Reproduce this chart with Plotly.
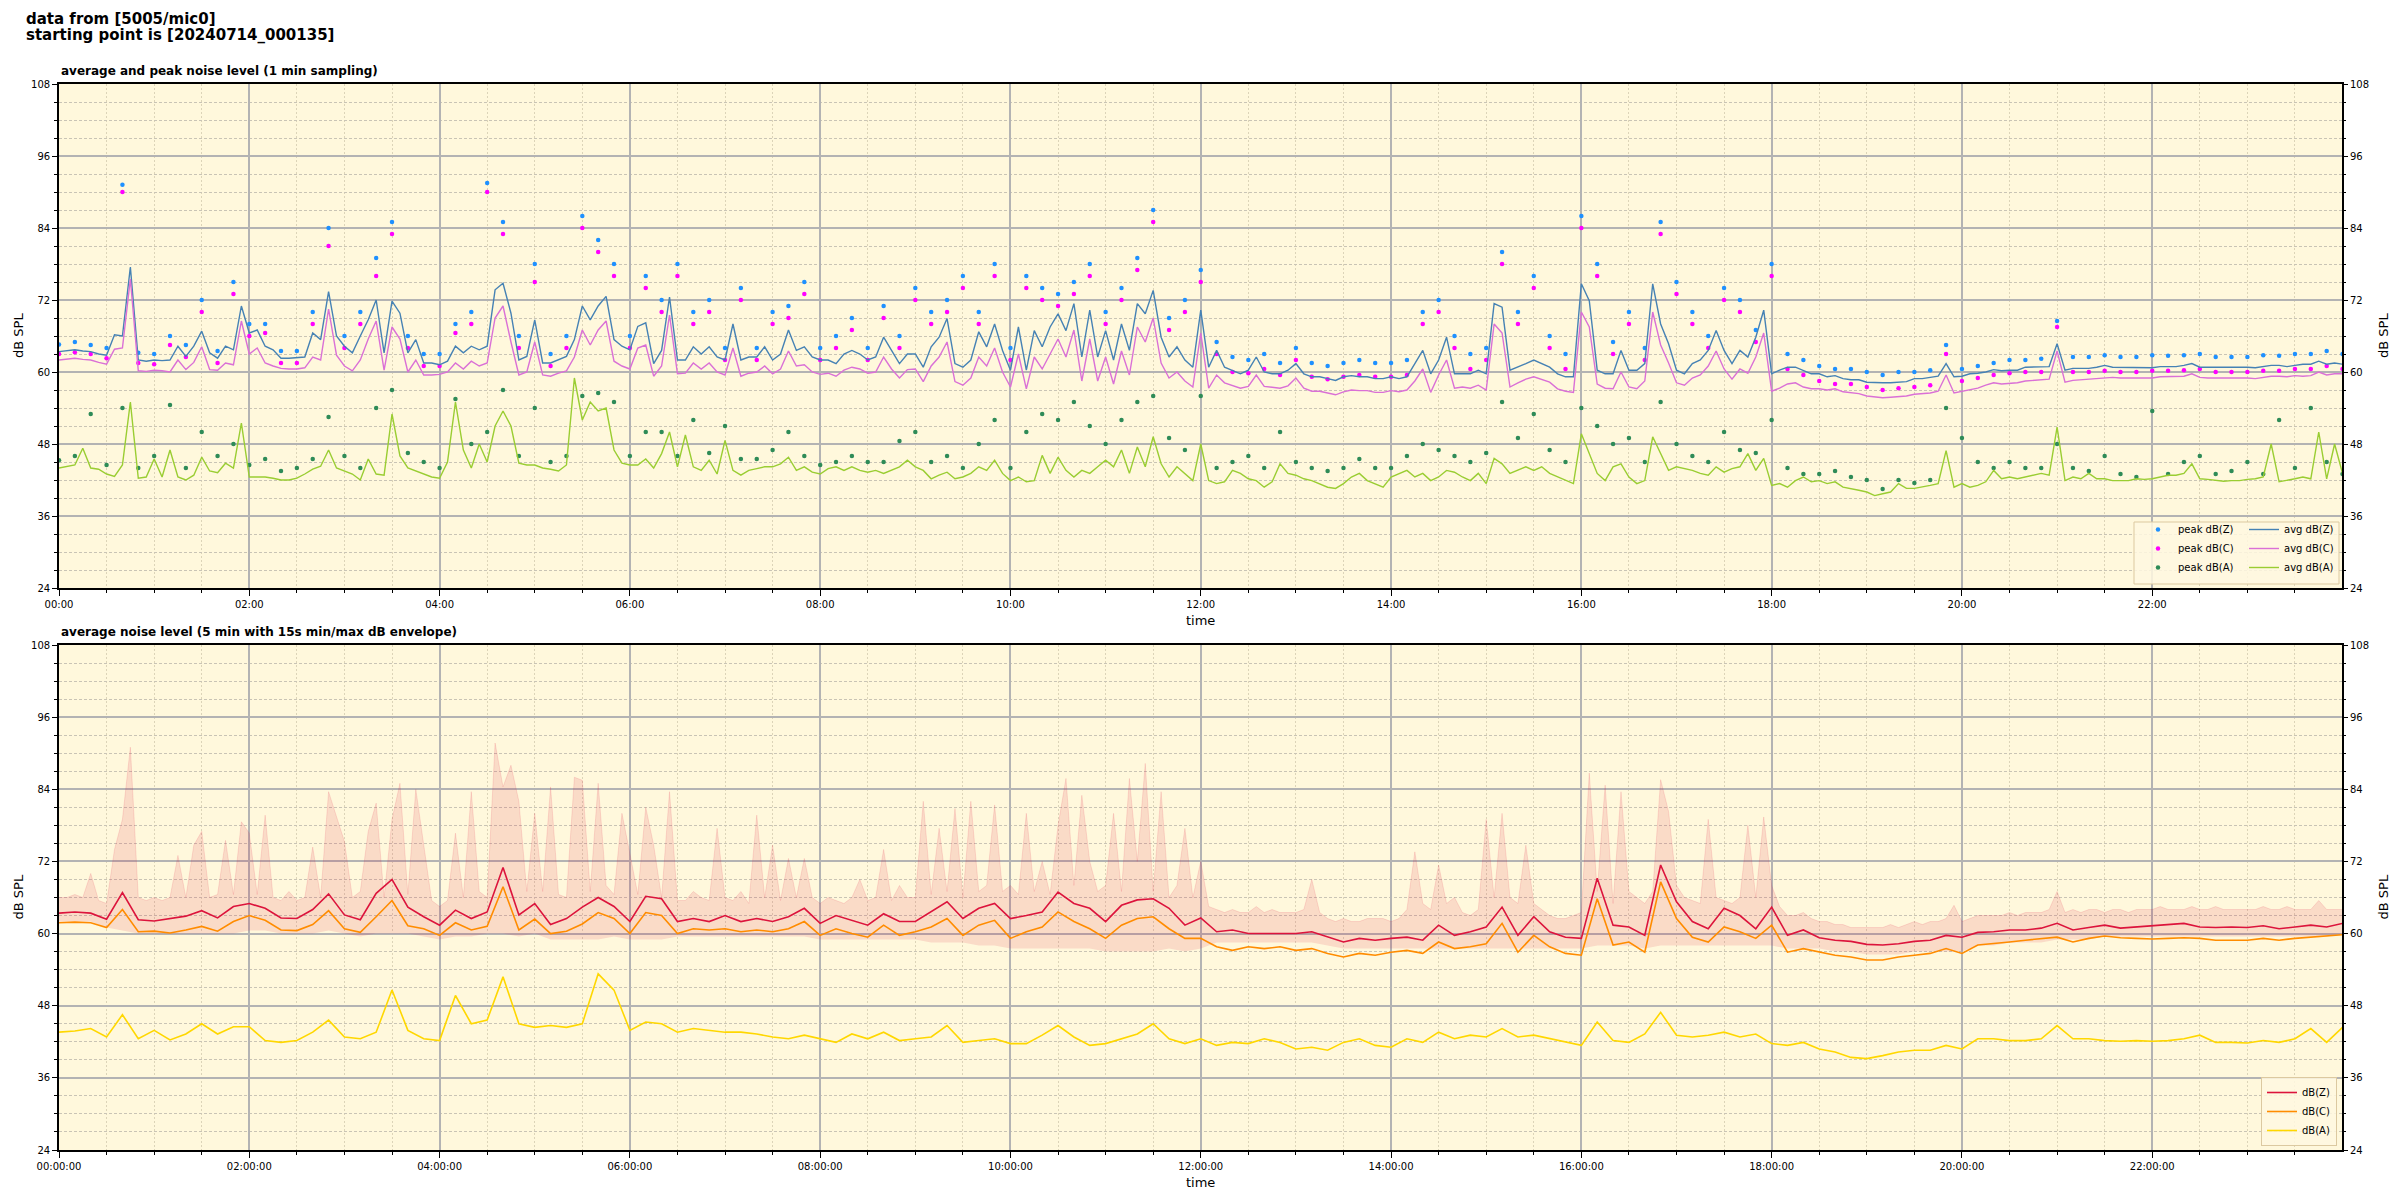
import numpy as np
import pandas as pd
import plotly.graph_objects as go

FONT = "DejaVu Sans"
BASE = pd.Timestamp("2024-07-14 00:00:00")

# ---------------- time grids (minutes after midnight) ----------------
minutes_5 = np.arange(0, 1441, 5)
minutes_10 = np.arange(0, 1441, 10)

# ---------------- top chart: 1-min averages (read every 5 min) ----------------
avg_z = [
    63.4, 63.6, 63.7, 63.5, 63.4, 63.0, 62.8, 66.2, 66.0, 77.5, 62.0, 61.8,
    62.0, 61.9, 62.0, 64.3, 62.6, 64.3, 66.8, 63.2, 62.3, 64.3, 63.7, 71.0,
    66.5, 67.0, 64.3, 63.7, 62.3, 62.3, 62.4, 62.5, 66.5, 65.4, 73.4, 66.0,
    64.3, 63.2, 66.0, 68.7, 72.0, 63.2, 71.8, 69.8, 63.2, 65.4, 61.5, 61.5,
    61.2, 61.8, 64.3, 63.2, 64.3, 63.7, 64.3, 73.7, 74.8, 69.8, 62.0, 62.6,
    68.7, 61.5, 61.5, 62.0, 62.6, 65.4, 71.0, 68.7, 71.0, 72.6, 65.4, 64.3,
    63.7, 67.6, 68.2, 61.4, 63.6, 72.5, 62.0, 62.0, 64.2, 63.0, 64.2, 62.5,
    62.0, 68.0, 62.0, 62.5, 62.5, 64.2, 62.0, 63.0, 67.0, 63.6, 64.2, 62.5,
    62.0, 62.0, 61.4, 63.0, 63.6, 63.0, 62.0, 62.5, 65.8, 63.6, 61.4, 63.0,
    63.0, 60.8, 64.2, 65.8, 68.9, 61.4, 60.8, 62.0, 66.7, 64.2, 68.0, 63.6,
    60.3, 67.5, 60.3, 66.9, 64.2, 67.5, 69.7, 66.9, 71.4, 62.5, 70.3, 62.5,
    66.9, 62.0, 68.0, 63.6, 71.4, 69.7, 73.6, 65.8, 62.5, 64.2, 62.0, 60.8,
    70.3, 60.8, 63.6, 60.8, 60.3, 59.7, 60.3, 62.5, 60.0, 59.7, 59.7, 60.3,
    61.4, 59.7, 59.2, 59.2, 58.9, 58.6, 59.2, 59.4, 59.2, 59.2, 58.9, 58.9,
    59.2, 58.9, 59.2, 61.4, 63.6, 59.7, 62.0, 65.8, 59.7, 59.7, 59.7, 60.3,
    59.7, 71.4, 70.8, 60.3, 60.8, 61.4, 62.0, 61.4, 60.8, 59.7, 59.2, 59.2,
    74.7, 71.9, 60.3, 59.7, 59.7, 63.6, 60.3, 60.3, 61.4, 74.7, 68.0, 64.7,
    60.3, 59.7, 61.4, 62.0, 63.6, 66.9, 63.6, 61.4, 63.6, 62.5, 65.8, 70.3,
    59.7, 60.3, 60.8, 60.8, 60.3, 59.7, 59.7, 59.2, 59.4, 58.9, 58.7, 58.7,
    58.3, 58.2, 58.2, 58.2, 58.3, 58.4, 58.9, 58.9, 59.1, 59.3, 61.4, 59.2,
    59.3, 59.7, 59.8, 60.0, 60.4, 60.2, 60.3, 60.3, 60.8, 60.8, 60.9, 60.9,
    64.7, 60.3, 60.6, 60.6, 60.6, 60.8, 61.1, 60.8, 60.8, 60.8, 60.7, 60.8,
    60.7, 60.9, 60.9, 60.9, 61.1, 61.4, 60.8, 60.8, 60.8, 60.9, 60.9, 60.8,
    60.8, 60.7, 60.9, 61.1, 61.1, 60.9, 61.1, 61.3, 61.3, 61.8, 61.3, 61.5,
    61.3,
]

avg_c = [
    62.0, 62.2, 62.3, 62.1, 62.0, 61.6, 61.3, 63.8, 64.0, 75.5, 60.2, 60.1,
    60.3, 60.2, 60.0, 62.0, 60.4, 61.6, 64.2, 60.4, 60.3, 61.5, 61.2, 68.5,
    63.0, 64.0, 61.5, 61.0, 60.6, 60.5, 60.5, 60.7, 62.5, 62.0, 70.5, 62.8,
    61.0, 60.2, 62.0, 65.5, 68.5, 60.3, 67.5, 65.5, 60.0, 62.0, 59.5, 59.5,
    59.6, 60.0, 61.5, 60.5, 61.8, 61.0, 61.5, 69.0, 71.0, 65.0, 59.5, 60.0,
    65.0, 59.5, 59.3, 59.8, 60.2, 62.5, 67.0, 64.5, 67.0, 68.5, 61.8, 61.0,
    60.5, 64.0, 64.5, 59.3, 61.0, 69.5, 59.7, 59.8, 61.5, 60.5, 61.5, 60.0,
    59.5, 64.0, 59.3, 59.8, 60.0, 61.0, 59.7, 60.5, 63.5, 61.0, 61.2, 60.0,
    59.6, 59.8, 59.3, 60.3, 60.8, 60.5, 59.8, 60.0, 62.5, 60.5, 59.0, 60.4,
    60.5, 58.4, 61.0, 62.5, 65.0, 58.4, 57.8, 59.0, 62.5, 61.0, 64.0, 60.0,
    57.5, 63.0, 57.2, 62.5, 60.5, 63.0, 65.5, 62.5, 67.0, 58.5, 65.5, 58.5,
    62.5, 58.0, 63.5, 59.5, 67.5, 65.0, 69.0, 61.5, 59.0, 60.0, 58.5, 57.5,
    66.5, 57.3, 59.5, 58.2, 57.8, 57.3, 57.6, 59.5, 57.6, 57.4, 57.3, 57.7,
    59.0, 57.3, 56.8, 56.8, 56.5, 56.2, 56.7, 57.0, 56.9, 56.9, 56.6, 56.6,
    56.9, 56.7, 57.0, 58.5, 60.5, 56.6, 59.5, 62.0, 57.3, 57.5, 57.3, 57.8,
    57.0, 68.0, 66.5, 57.5, 58.2, 58.8, 59.2, 58.8, 58.3, 57.2, 56.8, 56.6,
    70.0, 67.5, 58.0, 57.3, 57.2, 60.0, 57.5, 57.2, 58.5, 70.0, 64.5, 61.5,
    58.2, 57.8, 59.0, 59.5, 61.0, 63.5, 60.5, 58.8, 60.5, 59.8, 62.5, 66.5,
    56.8, 57.3, 58.0, 58.2, 57.5, 57.2, 57.2, 57.0, 57.2, 56.7, 56.5, 56.4,
    56.0, 55.8, 55.7, 55.8, 55.9, 56.0, 56.3, 56.4, 56.5, 56.8, 59.5, 56.5,
    56.8, 57.0, 57.3, 57.8, 58.2, 58.0, 58.1, 58.2, 58.5, 58.6, 58.7, 58.8,
    63.5, 58.3, 58.6, 58.7, 58.8, 59.0, 59.1, 59.1, 59.0, 59.0, 58.9, 58.9,
    59.0, 59.2, 59.2, 59.2, 59.3, 59.7, 59.1, 59.0, 59.0, 59.1, 59.1, 59.0,
    59.0, 58.9, 59.1, 59.3, 59.3, 59.2, 59.4, 59.3, 59.4, 60.0, 59.5, 59.7,
    59.7,
]

avg_a = [
    44.0, 44.2, 44.5, 47.3, 44.0, 43.8, 43.0, 42.6, 44.5, 55.0, 42.3, 42.5,
    45.5, 42.5, 47.0, 42.5, 42.0, 42.8, 45.8, 43.5, 43.2, 44.8, 44.0, 51.5,
    42.5, 42.5, 42.5, 42.3, 42.0, 42.0, 42.3, 43.0, 43.8, 44.3, 47.0, 44.0,
    43.5, 43.0, 42.0, 45.5, 43.0, 42.8, 53.0, 46.0, 44.0, 43.5, 43.0, 42.5,
    42.3, 45.0, 55.0, 47.0, 44.0, 48.0, 45.0, 51.0, 53.5, 51.0, 44.8, 44.5,
    44.5, 44.0, 43.8, 43.5, 44.5, 59.0, 52.0, 55.0, 53.5, 54.0, 47.0, 44.8,
    44.5, 44.5, 45.5, 44.0, 46.4, 50.0, 44.2, 49.5, 44.2, 43.6, 45.3, 43.0,
    48.6, 43.6, 42.8, 43.6, 43.9, 44.2, 44.2, 44.7, 45.8, 43.6, 44.2, 43.3,
    43.0, 43.9, 44.2, 43.6, 44.2, 43.6, 43.3, 43.6, 43.1, 43.6, 44.2, 45.3,
    44.2, 43.6, 42.2, 42.8, 43.3, 42.2, 42.5, 43.1, 44.2, 43.6, 45.3, 43.1,
    41.9, 42.5, 41.7, 41.9, 46.1, 43.1, 45.8, 43.6, 42.5, 43.6, 43.1, 44.2,
    45.3, 44.2, 47.0, 43.1, 47.5, 44.2, 49.2, 44.7, 42.5, 44.2, 43.1, 41.9,
    48.0, 41.9, 41.4, 41.7, 43.6, 43.1, 42.2, 41.9, 40.8, 41.7, 44.7, 43.1,
    42.8, 42.2, 41.9, 41.4, 40.8, 40.6, 41.4, 42.5, 43.1, 41.9, 41.4, 40.8,
    42.5, 43.1, 43.6, 42.5, 43.1, 41.9, 42.5, 43.6, 43.3, 42.5, 41.9, 43.1,
    41.4, 45.6, 44.7, 43.1, 43.6, 44.2, 43.6, 44.2, 43.1, 42.5, 41.9, 41.4,
    49.7, 46.4, 43.1, 41.9, 44.2, 44.7, 42.5, 41.4, 41.9, 49.2, 46.4, 43.6,
    44.2, 43.9, 43.6, 43.1, 42.8, 44.2, 43.3, 43.9, 44.2, 46.4, 43.6, 45.6,
    41.1, 41.4, 40.8, 41.9, 42.5, 41.7, 41.9, 41.4, 41.7, 40.8, 40.6, 40.3,
    40.0, 39.4, 39.7, 40.0, 41.4, 40.6, 40.6, 40.8, 41.1, 41.4, 46.9, 40.8,
    41.4, 40.8, 41.1, 41.7, 43.6, 42.2, 42.5, 42.2, 42.5, 42.8, 43.1, 42.8,
    50.8, 41.9, 42.5, 42.2, 43.1, 42.2, 42.2, 41.9, 41.9, 41.9, 42.2, 42.1,
    42.2, 42.5, 42.8, 42.8, 43.1, 44.7, 42.2, 42.1, 41.9, 41.8, 41.9, 41.9,
    42.1, 42.2, 42.5, 48.0, 41.7, 41.9, 42.2, 42.5, 42.2, 50.0, 42.2, 48.0,
    43.1,
]

# ---------------- top chart: peaks (read every 10 min) ----------------
peak_z = [
    64.6, 65.0, 64.5, 64.0, 91.2, 63.2,
    63.0, 66.0, 64.5, 72.0, 63.5, 75.0,
    68.0, 68.0, 63.5, 63.5, 70.0, 84.0,
    66.0, 70.0, 79.0, 85.0, 66.0, 63.0,
    63.0, 68.0, 70.0, 91.5, 85.0, 66.0,
    78.0, 63.0, 66.0, 86.0, 82.0, 78.0,
    66.0, 76.0, 72.0, 78.0, 70.0, 72.0,
    64.0, 74.0, 64.0, 70.0, 71.0, 75.0,
    64.0, 66.0, 69.0, 64.0, 71.0, 66.0,
    74.0, 70.0, 72.0, 76.0, 70.0, 78.0,
    64.0, 76.0, 74.0, 73.0, 75.0, 78.0,
    70.0, 74.0, 79.0, 87.0, 69.0, 72.0,
    77.0, 65.0, 62.5, 62.0, 63.0, 61.5,
    64.0, 61.5, 61.0, 61.5, 62.0, 61.5,
    61.5, 62.0, 70.0, 72.0, 66.0, 63.0,
    64.0, 80.0, 70.0, 76.0, 66.0, 63.0,
    86.0, 78.0, 65.0, 70.0, 64.0, 85.0,
    75.0, 70.0, 66.0, 74.0, 72.0, 67.0,
    78.0, 63.0, 62.0, 61.0, 60.5, 60.5,
    60.0, 59.5, 60.0, 60.0, 60.3, 64.5,
    60.5, 61.0, 61.5, 62.0, 62.0, 62.2,
    68.5, 62.5, 62.5, 62.8, 62.5, 62.5,
    62.8, 62.7, 62.8, 63.0, 62.5, 62.5,
    62.5, 62.8, 62.7, 63.0, 63.0, 63.5,
    63.0,
]

peak_c = [
    63.0, 63.3, 63.0, 62.3, 90.0, 61.5,
    61.3, 64.5, 62.5, 70.0, 61.5, 73.0,
    66.0, 66.5, 61.5, 61.5, 68.0, 81.0,
    64.0, 68.0, 76.0, 83.0, 64.0, 61.0,
    61.0, 66.5, 68.0, 90.0, 83.0, 64.0,
    75.0, 61.0, 64.0, 84.0, 80.0, 76.0,
    64.0, 74.0, 70.0, 76.0, 68.0, 70.0,
    62.0, 72.0, 62.0, 68.0, 69.0, 73.0,
    62.0, 64.0, 67.0, 62.0, 69.0, 64.0,
    72.0, 68.0, 70.0, 74.0, 68.0, 76.0,
    62.0, 74.0, 72.0, 71.0, 73.0, 76.0,
    68.0, 72.0, 77.0, 85.0, 67.0, 70.0,
    75.0, 63.0, 60.0, 59.8, 60.5, 59.5,
    62.0, 59.2, 58.8, 59.2, 59.5, 59.2,
    59.2, 59.5, 68.0, 70.0, 64.0, 60.5,
    62.0, 78.0, 68.0, 74.0, 64.0, 60.5,
    84.0, 76.0, 63.0, 68.0, 62.0, 83.0,
    73.0, 68.0, 64.0, 72.0, 70.0, 65.0,
    76.0, 60.5, 59.5, 58.5, 58.0, 58.0,
    57.5, 57.0, 57.3, 57.5, 57.8, 63.0,
    58.5, 59.0, 59.5, 59.8, 60.0, 60.0,
    67.5, 60.0, 60.0, 60.2, 60.0, 60.0,
    60.2, 60.2, 60.3, 60.5, 60.0, 60.0,
    60.0, 60.2, 60.2, 60.5, 60.5, 61.0,
    60.5,
]

peak_a = [
    45.3, 46.0, 53.0, 44.5, 54.0, 44.0,
    46.0, 54.5, 44.0, 50.0, 46.0, 48.0,
    44.5, 45.5, 43.5, 44.0, 45.5, 52.5,
    46.0, 44.0, 54.0, 57.0, 46.5, 45.0,
    44.0, 55.5, 48.0, 50.0, 57.0, 46.0,
    54.0, 45.0, 46.0, 56.0, 56.5, 55.0,
    46.0, 50.0, 50.0, 46.0, 52.0, 46.5,
    51.0, 45.5, 45.5, 47.0, 50.0, 46.0,
    44.5, 45.0, 46.0, 45.0, 45.0, 48.5,
    50.0, 45.0, 46.0, 44.0, 48.0, 52.0,
    44.0, 50.0, 53.0, 52.0, 55.0, 51.0,
    48.0, 52.0, 55.0, 56.0, 49.0, 47.0,
    56.0, 44.0, 45.0, 46.0, 44.0, 50.0,
    45.0, 44.0, 43.5, 44.0, 45.5, 44.0,
    44.0, 46.0, 48.0, 47.0, 46.0, 45.0,
    46.5, 55.0, 49.0, 53.0, 47.0, 45.0,
    54.0, 51.0, 48.0, 49.0, 45.0, 55.0,
    48.0, 46.0, 45.0, 50.0, 47.0, 46.5,
    52.0, 44.0, 43.0, 43.0, 43.5, 42.5,
    42.0, 40.5, 42.0, 41.5, 42.0, 54.0,
    49.0, 45.0, 44.0, 45.0, 44.0, 44.0,
    48.0, 44.0, 43.5, 46.0, 43.0, 42.5,
    53.5, 43.0, 45.0, 46.0, 43.0, 43.5,
    45.0, 43.0, 52.0, 44.0, 54.0, 45.0,
    43.0,
]

# ---------------- bottom chart: 5-min averages (read every 10 min) ----------------
five_z = [
    63.4, 63.6, 63.4, 62.4, 66.8, 62.3,
    62.1, 62.5, 62.9, 63.8, 62.6, 64.5,
    65.0, 64.2, 62.6, 62.5, 64.0, 66.6,
    63.1, 62.3, 66.7, 69.0, 64.4, 62.8,
    61.4, 63.9, 62.5, 63.6, 71.0, 63.1,
    65.0, 61.5, 62.5, 64.4, 66.0, 64.5,
    62.0, 66.2, 65.8, 62.0, 62.5, 62.0,
    63.0, 62.0, 62.5, 62.0, 62.8, 64.2,
    61.7, 63.0, 62.2, 61.4, 63.3, 62.0,
    62.0, 63.6, 65.3, 62.5, 64.2, 65.0,
    62.5, 63.0, 63.6, 66.9, 65.0, 64.2,
    62.0, 64.7, 65.6, 65.8, 64.2, 61.4,
    62.6, 60.3, 60.6, 60.0, 60.0, 60.0,
    60.0, 60.3, 59.4, 58.6, 59.2, 58.9,
    59.2, 59.4, 58.9, 61.4, 59.7, 60.3,
    61.1, 64.4, 59.7, 62.8, 60.3, 59.4,
    59.2, 69.2, 61.4, 61.1, 59.7, 71.4,
    65.3, 62.0, 60.8, 64.2, 63.0, 60.8,
    64.4, 59.7, 60.6, 59.3, 58.9, 58.7,
    58.2, 58.1, 58.3, 58.7, 58.9, 59.7,
    59.4, 60.2, 60.3, 60.6, 60.6, 60.9,
    61.7, 60.6, 61.0, 61.4, 60.9, 61.1,
    61.2, 61.4, 61.7, 61.1, 61.0, 61.1,
    61.0, 61.3, 60.8, 61.1, 61.4, 61.1,
    61.7,
]

five_c = [
    61.8, 61.9, 61.8, 61.0, 64.0, 60.3,
    60.4, 60.1, 60.6, 61.2, 60.4, 62.0,
    63.0, 62.2, 60.6, 60.5, 61.5, 63.8,
    60.8, 60.2, 62.8, 65.5, 61.3, 60.8,
    59.7, 61.8, 60.6, 61.2, 67.8, 60.6,
    62.4, 60.0, 60.4, 61.6, 63.5, 62.5,
    60.0, 63.5, 63.0, 60.0, 60.8, 60.6,
    60.8, 60.3, 60.6, 60.3, 60.8, 62.0,
    59.7, 60.8, 60.0, 59.4, 61.4, 59.7,
    60.3, 61.1, 62.5, 59.7, 61.4, 62.2,
    59.2, 60.3, 61.1, 63.6, 62.0, 60.8,
    59.2, 61.4, 62.5, 62.8, 60.8, 59.2,
    59.2, 57.8, 57.2, 57.8, 57.5, 57.8,
    57.2, 57.5, 56.7, 56.1, 56.7, 56.4,
    56.9, 57.2, 56.7, 58.6, 57.5, 57.8,
    58.3, 61.7, 56.9, 59.7, 57.8, 56.7,
    56.4, 65.8, 58.1, 58.6, 56.9, 68.6,
    62.5, 59.4, 58.6, 61.1, 60.3, 59.2,
    61.4, 56.9, 57.5, 56.9, 56.4, 56.1,
    55.6, 55.6, 56.1, 56.4, 56.7, 57.5,
    56.7, 58.1, 58.3, 58.6, 58.9, 59.2,
    59.4, 58.6, 59.2, 59.6, 59.3, 59.2,
    59.1, 59.2, 59.3, 59.2, 58.9, 58.9,
    58.9, 59.2, 58.9, 59.2, 59.4, 59.7,
    59.8,
]

five_a = [
    43.6, 43.8, 44.2, 42.8, 46.5, 42.5,
    43.9, 42.3, 43.3, 45.0, 43.3, 44.5,
    44.5, 42.2, 41.9, 42.2, 43.6, 45.6,
    42.8, 42.5, 43.6, 50.6, 43.9, 42.5,
    42.2, 49.7, 45.0, 45.6, 52.8, 45.0,
    44.4, 44.7, 44.4, 45.0, 53.3, 50.6,
    43.9, 45.3, 45.0, 43.6, 44.2, 43.9,
    43.6, 43.6, 43.3, 42.8, 42.5, 43.1,
    42.5, 41.9, 43.3, 42.5, 43.6, 42.2,
    42.5, 42.8, 44.7, 41.9, 42.2, 42.5,
    41.7, 41.7, 43.1, 44.7, 42.8, 41.4,
    41.7, 42.5, 43.3, 45.0, 42.5, 41.7,
    42.5, 41.4, 41.9, 41.7, 42.5, 41.9,
    40.8, 41.1, 40.6, 41.9, 42.5, 41.4,
    41.1, 42.5, 41.9, 43.6, 42.5, 43.1,
    42.8, 44.2, 42.8, 43.1, 42.5, 41.9,
    41.4, 45.3, 42.2, 41.9, 43.3, 46.9,
    43.1, 42.8, 43.1, 43.6, 42.8, 43.3,
    41.7, 41.4, 41.9, 40.8, 40.3, 39.4,
    39.2, 39.7, 40.3, 40.6, 40.6, 41.4,
    40.8, 42.5, 42.5, 42.2, 42.2, 42.5,
    44.7, 42.5, 42.5, 42.2, 42.1, 42.2,
    42.1, 42.2, 42.5, 43.1, 41.9, 41.9,
    41.8, 42.2, 41.9, 42.5, 44.2, 41.9,
    44.4,
]

# 15 s max envelope (read every 5 min)
env_max = [
    66.0, 66.0, 66.5, 66.0, 70.0, 65.5, 65.0, 74.0, 79.0, 91.0, 66.0, 65.5,
    66.0, 65.5, 66.0, 73.0, 66.0, 74.7, 77.0, 66.0, 66.5, 75.5, 66.5, 78.6,
    76.7, 66.5, 79.7, 66.0, 65.5, 67.0, 65.5, 66.0, 74.4, 66.0, 83.6, 79.4,
    75.3, 66.0, 67.0, 77.0, 81.7, 66.0, 79.0, 85.0, 66.5, 84.0, 75.0, 65.5,
    64.5, 65.5, 76.7, 66.0, 83.6, 67.0, 66.0, 91.7, 84.4, 88.0, 82.0, 67.0,
    80.0, 67.0, 84.4, 66.5, 66.0, 86.0, 85.5, 67.0, 85.0, 68.0, 66.5, 80.0,
    73.3, 66.5, 81.0, 74.7, 66.0, 83.6, 65.5, 65.5, 67.0, 66.0, 65.5, 77.5,
    66.0, 65.5, 67.0, 65.0, 79.7, 66.0, 74.7, 65.5, 72.5, 66.0, 72.5, 66.0,
    65.0, 66.0, 65.5, 65.0, 66.0, 69.0, 65.5, 66.0, 74.0, 65.5, 68.0, 66.0,
    66.0, 82.0, 66.5, 77.5, 67.0, 80.8, 66.0, 82.0, 67.0, 68.0, 81.4, 67.0,
    68.0, 66.5, 80.0, 67.0, 72.0, 66.5, 78.0, 85.8, 68.0, 83.0, 72.0, 67.0,
    68.0, 80.0, 67.0, 85.8, 72.0, 88.3, 67.0, 83.6, 66.0, 68.0, 77.5, 66.0,
    72.0, 64.5, 64.0, 63.5, 64.0, 63.5, 63.5, 64.5, 63.5, 64.0, 63.5, 63.5,
    63.5, 64.0, 69.0, 63.5, 62.5, 62.0, 62.5, 62.0, 62.0, 62.5, 62.5, 62.5,
    62.0, 62.5, 64.0, 73.6, 65.0, 64.0, 71.4, 65.0, 66.0, 63.5, 63.0, 64.0,
    79.0, 66.0, 80.0, 66.0, 65.0, 74.7, 65.0, 64.0, 63.0, 62.5, 62.5, 63.0,
    63.5, 86.7, 67.0, 84.7, 65.0, 83.6, 67.0, 66.0, 65.0, 67.0, 85.6, 80.3,
    68.0, 66.0, 65.5, 65.0, 79.0, 66.0, 65.5, 65.0, 66.0, 78.0, 66.0, 79.4,
    68.0, 64.5, 63.0, 63.0, 63.5, 62.5, 62.0, 62.0, 61.5, 61.5, 61.0, 61.0,
    61.0, 61.0, 61.0, 61.5, 61.0, 61.5, 62.0, 61.5, 62.0, 62.0, 62.5, 64.7,
    62.0, 62.5, 63.0, 63.0, 63.0, 63.0, 63.5, 63.0, 63.5, 63.5, 63.5, 64.0,
    67.0, 63.5, 64.0, 63.5, 64.0, 64.0, 63.5, 64.0, 64.0, 63.5, 64.0, 64.0,
    64.0, 64.5, 64.0, 64.0, 64.0, 64.5, 64.0, 64.0, 64.5, 64.0, 64.0, 64.0,
    64.0, 64.0, 64.5, 64.0, 64.0, 64.5, 64.0, 64.0, 64.0, 65.5, 64.0, 64.0,
    64.0,
]

# 15 s min envelope (read every 10 min)
env_min = [
    62.0, 62.0, 62.0, 61.0, 60.5, 60.0,
    60.0, 60.0, 60.0, 60.0, 60.0, 60.0,
    60.5, 60.5, 60.0, 60.0, 60.0, 60.5,
    60.0, 59.5, 60.0, 60.0, 60.0, 59.5,
    59.0, 59.5, 59.5, 60.0, 60.0, 59.5,
    60.0, 59.0, 59.0, 59.0, 59.0, 59.5,
    59.0, 59.0, 59.0, 59.5, 59.5, 59.5,
    59.5, 59.5, 59.5, 59.5, 59.5, 59.5,
    59.0, 59.0, 59.0, 59.0, 59.0, 59.0,
    59.0, 58.5, 58.5, 58.5, 58.0, 58.0,
    57.5, 57.5, 57.5, 57.5, 57.5, 57.5,
    57.0, 57.0, 57.0, 57.0, 57.5, 57.0,
    57.5, 58.5, 58.5, 58.5, 58.5, 58.5,
    58.5, 58.5, 58.0, 57.5, 57.5, 57.5,
    57.5, 57.5, 57.5, 57.5, 57.5, 57.5,
    57.5, 57.5, 57.5, 57.5, 57.5, 57.5,
    57.5, 58.0, 58.0, 58.0, 57.5, 58.0,
    58.0, 58.0, 58.0, 58.0, 58.0, 58.0,
    58.0, 57.5, 57.5, 57.5, 57.0, 57.0,
    56.5, 56.5, 56.5, 57.0, 57.0, 57.0,
    57.0, 58.0, 58.0, 58.5, 58.5, 58.5,
    59.0, 59.0, 59.0, 59.5, 59.5, 59.5,
    59.5, 59.5, 59.5, 59.5, 59.5, 59.5,
    59.5, 59.5, 59.5, 59.5, 59.5, 59.5,
    60.0,
]

for name, arr, n in [("avg_z", avg_z, 289), ("avg_c", avg_c, 289), ("avg_a", avg_a, 289),
                     ("peak_z", peak_z, 145), ("peak_c", peak_c, 145), ("peak_a", peak_a, 145),
                     ("five_z", five_z, 145), ("five_c", five_c, 145), ("five_a", five_a, 145),
                     ("env_max", env_max, 289), ("env_min", env_min, 145)]:
    if len(arr) != n:
        raise ValueError(f"{name} has {len(arr)} values, expected {n}")

t5 = BASE + pd.to_timedelta(minutes_5, unit="min")
t10 = BASE + pd.to_timedelta(minutes_10, unit="min")

# ---------------- figure geometry (screen px; page body adds an 8 px offset) ----------------
W, H = 2400, 1200
OFF = 8
X0, X1 = 59, 2342
TOP_Y0, TOP_Y1 = 84, 588
BOT_Y0, BOT_Y1 = 645, 1150


def px_x(p):
    return (p - OFF) / W


def px_y(p):
    return 1 - (p - OFF) / H


fig = go.Figure()

# top: peaks
fig.add_trace(go.Scatter(x=t10, y=peak_z, mode="markers", name="peak dB(Z)",
                         marker=dict(color="#1E90FF", size=4.5), legend="legend"))
fig.add_trace(go.Scatter(x=t10, y=peak_c, mode="markers", name="peak dB(C)",
                         marker=dict(color="#FF00FF", size=4.5), legend="legend"))
fig.add_trace(go.Scatter(x=t10, y=peak_a, mode="markers", name="peak dB(A)",
                         marker=dict(color="#2E8B57", size=4.5), legend="legend"))
# top: averages
fig.add_trace(go.Scatter(x=t5, y=avg_z, mode="lines", name="avg dB(Z)",
                         line=dict(color="#4682B4", width=1.4), legend="legend2"))
fig.add_trace(go.Scatter(x=t5, y=avg_c, mode="lines", name="avg dB(C)",
                         line=dict(color="#DA70D6", width=1.4), legend="legend2"))
fig.add_trace(go.Scatter(x=t5, y=avg_a, mode="lines", name="avg dB(A)",
                         line=dict(color="#9ACD32", width=1.4), legend="legend2"))

# bottom: envelope
fig.add_trace(go.Scatter(x=t10, y=env_min, mode="lines", xaxis="x2", yaxis="y2",
                         line=dict(width=0, color="rgba(220,20,60,0.12)"),
                         showlegend=False, hoverinfo="skip"))
fig.add_trace(go.Scatter(x=t5, y=env_max, mode="lines", xaxis="x2", yaxis="y2",
                         fill="tonexty", fillcolor="rgba(220,20,60,0.13)",
                         line=dict(width=1, color="rgba(220,20,60,0.12)"),
                         showlegend=False, hoverinfo="skip"))
# bottom: 5-min averages
fig.add_trace(go.Scatter(x=t10, y=five_z, mode="lines", name="dB(Z)", xaxis="x2", yaxis="y2",
                         line=dict(color="#DC143C", width=1.6), legend="legend3"))
fig.add_trace(go.Scatter(x=t10, y=five_c, mode="lines", name="dB(C)", xaxis="x2", yaxis="y2",
                         line=dict(color="#FF8C00", width=1.6), legend="legend3"))
fig.add_trace(go.Scatter(x=t10, y=five_a, mode="lines", name="dB(A)", xaxis="x2", yaxis="y2",
                         line=dict(color="#FFD700", width=1.6), legend="legend3"))

# invisible anchors so the right-hand y axes are drawn
fig.add_trace(go.Scatter(x=[t10[0]], y=[60], xaxis="x", yaxis="y3", mode="markers",
                         marker=dict(opacity=0), showlegend=False, hoverinfo="skip"))
fig.add_trace(go.Scatter(x=[t10[0]], y=[60], xaxis="x2", yaxis="y4", mode="markers",
                         marker=dict(opacity=0), showlegend=False, hoverinfo="skip"))

xrange = [BASE, BASE + pd.Timedelta(hours=24) - pd.Timedelta(seconds=20)]
tickfont = dict(family=FONT, size=10, color="black")


def xaxis_cfg(anchor, fmt):
    return dict(
        type="date", range=xrange, domain=[px_x(X0), px_x(X1)], anchor=anchor,
        tick0=BASE, dtick=2 * 3600 * 1000, tickformat=fmt, tickfont=tickfont,
        ticks="outside", ticklen=6, tickwidth=1, tickcolor="black",
        showgrid=True, gridcolor="#b3b3b3", gridwidth=1.5,
        minor=dict(dtick=30 * 60 * 1000, ticks="outside", ticklen=3, tickwidth=1,
                   tickcolor="black", showgrid=True, gridcolor="#dcd4b8",
                   griddash="2px,2px", gridwidth=1),
        showline=True, linecolor="black", linewidth=1.6, mirror=True,
        zeroline=False, automargin=False,
    )


def yaxis_cfg(anchor, ytop, ybot, side="left", overlay=None):
    cfg = dict(
        range=[24, 108], domain=[px_y(ybot), px_y(ytop)], anchor=anchor, side=side,
        tick0=24, dtick=12, tickfont=tickfont,
        ticks="outside", ticklen=5, tickwidth=1, tickcolor="black",
        zeroline=False, automargin=False,
    )
    if overlay is None:
        cfg.update(
            showgrid=True, gridcolor="#b3b3b3", gridwidth=1.5,
            minor=dict(dtick=3, ticks="outside", ticklen=3, tickwidth=1, tickcolor="black",
                       showgrid=True, gridcolor="#c9c4b5", griddash="3px,2px", gridwidth=1),
            showline=True, linecolor="black", linewidth=1.6, mirror=True,
        )
    else:
        cfg.update(
            overlaying=overlay, showgrid=False, showline=False,
            minor=dict(dtick=3, ticks="outside", ticklen=3, tickwidth=1, tickcolor="black",
                       showgrid=False),
        )
    return cfg


legend_common = dict(font=dict(family=FONT, size=10, color="black"),
                     bgcolor="rgba(0,0,0,0)", borderwidth=0, itemwidth=30,
                     orientation="v", yanchor="bottom", tracegroupgap=0,
                     traceorder="normal")

fig.update_layout(
    width=W, height=H, template="none",
    paper_bgcolor="white", plot_bgcolor="#FFF8DC",
    margin=dict(l=0, r=0, t=0, b=0),
    font=dict(family=FONT, color="black"),
    xaxis=xaxis_cfg("y", "%H:%M"),
    xaxis2=xaxis_cfg("y2", "%H:%M:%S"),
    yaxis=yaxis_cfg("x", TOP_Y0, TOP_Y1),
    yaxis2=yaxis_cfg("x2", BOT_Y0, BOT_Y1),
    yaxis3=yaxis_cfg("x", TOP_Y0, TOP_Y1, side="right", overlay="y"),
    yaxis4=yaxis_cfg("x2", BOT_Y0, BOT_Y1, side="right", overlay="y2"),
    legend=dict(legend_common, x=px_x(2138), xanchor="left", y=px_y(582)),
    legend2=dict(legend_common, x=px_x(2339), xanchor="right", y=px_y(582)),
    legend3=dict(legend_common, x=px_x(2337), xanchor="right", y=px_y(1146),
                 bgcolor="rgba(255,248,225,0.85)", bordercolor="#dcc9a0", borderwidth=1),
    showlegend=True,
)

# frame shared by the two top legends
fig.add_shape(type="rect", xref="paper", yref="paper",
              x0=px_x(2134), x1=px_x(2339), y0=px_y(584), y1=px_y(522),
              fillcolor="rgba(255,248,225,0.85)", line=dict(color="#dcc9a0", width=1),
              layer="above")

ann = []
ann.append(dict(text="<b>data from [5005/mic0]</b>", x=px_x(24), y=px_y(19),
                xanchor="left", yanchor="middle", font=dict(size=15)))
ann.append(dict(text="<b>starting point is [20240714_000135]</b>", x=px_x(24), y=px_y(35),
                xanchor="left", yanchor="middle", font=dict(size=15)))
ann.append(dict(text="<b>average and peak noise level (1 min sampling)</b>", x=px_x(59),
                y=px_y(71), xanchor="left", yanchor="middle", font=dict(size=12)))
ann.append(dict(text="<b>average noise level (5 min with 15s min/max dB envelope)</b>",
                x=px_x(59), y=px_y(632), xanchor="left", yanchor="middle", font=dict(size=12)))
for yc in [(TOP_Y0 + TOP_Y1) / 2, (BOT_Y0 + BOT_Y1) / 2]:
    ann.append(dict(text="dB SPL", x=px_x(18), y=px_y(yc), textangle=-90,
                    xanchor="center", yanchor="middle", font=dict(size=13)))
    ann.append(dict(text="dB SPL", x=px_x(2383), y=px_y(yc), textangle=-90,
                    xanchor="center", yanchor="middle", font=dict(size=13)))
ann.append(dict(text="time", x=px_x((X0 + X1) / 2), y=px_y(620), xanchor="center",
                yanchor="middle", font=dict(size=13)))
ann.append(dict(text="time", x=px_x((X0 + X1) / 2), y=px_y(1182), xanchor="center",
                yanchor="middle", font=dict(size=13)))
for a in ann:
    a.update(xref="paper", yref="paper", showarrow=False)
    a["font"] = dict(family=FONT, color="black", **a["font"])
fig.update_layout(annotations=ann)

fig.write_html("out.html")
